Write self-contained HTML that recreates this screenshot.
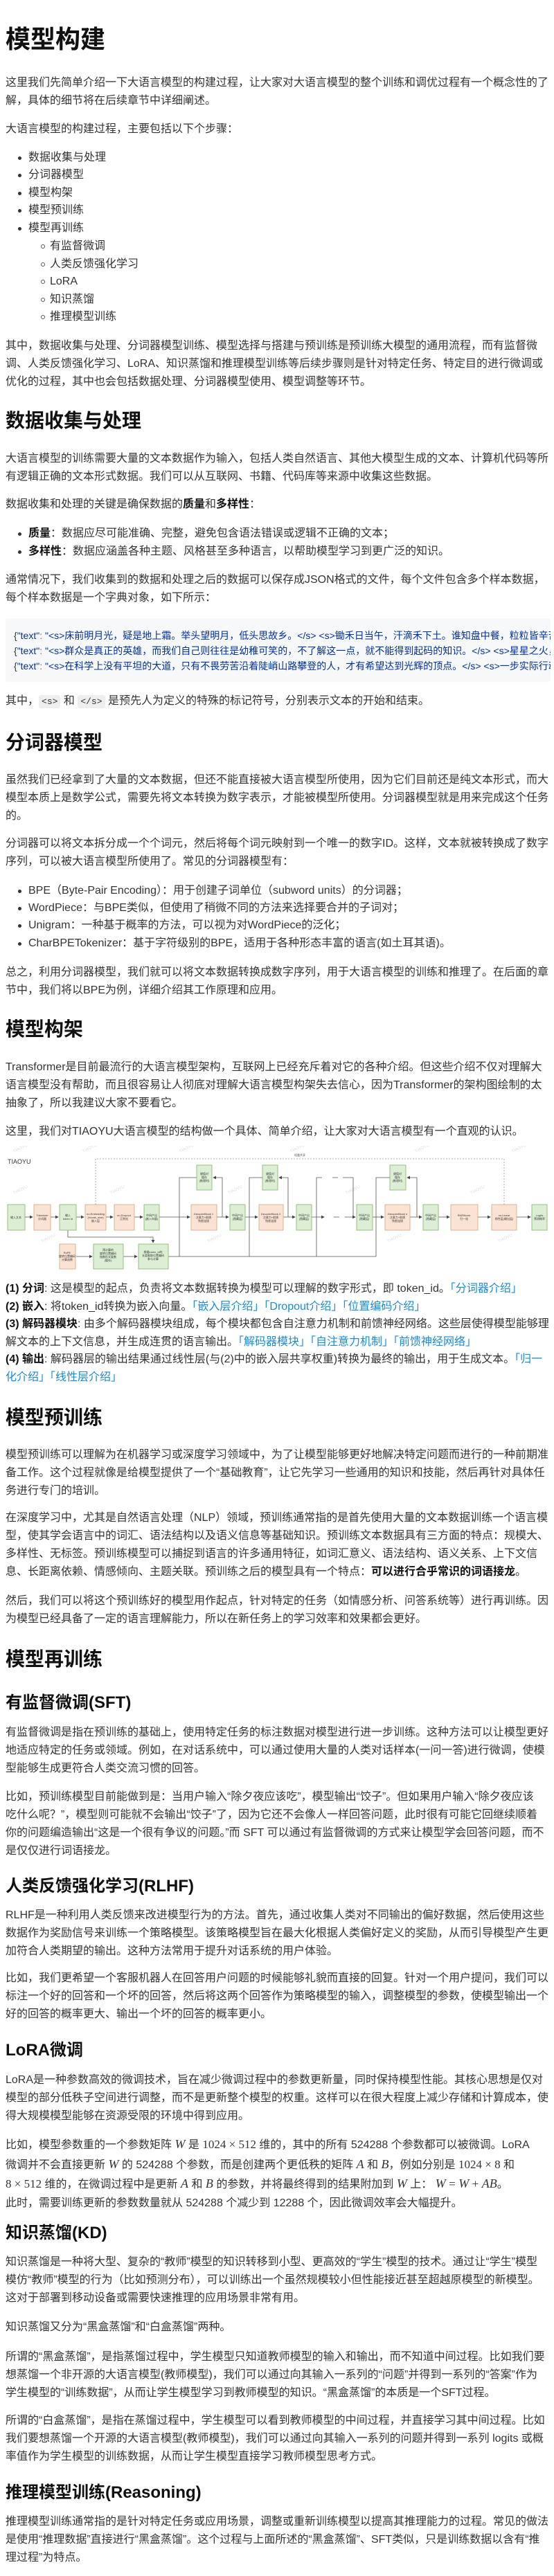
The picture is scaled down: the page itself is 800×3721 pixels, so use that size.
<!DOCTYPE html>
<html><head><meta charset="utf-8">
<style>
html,body{margin:0;padding:0;background:#fff;}
body{width:800px;height:3721px;position:relative;overflow:hidden;font-family:"Liberation Sans","Noto Sans CJK SC",sans-serif;color:#333;font-size:16px;}
.p{position:absolute;left:8px;white-space:nowrap;line-height:26px;font-size:16px;}
.h1{position:absolute;left:8px;font-size:36px;font-weight:bold;color:#111;line-height:40px;white-space:nowrap;}
.h2{position:absolute;left:8px;font-size:28px;font-weight:bold;color:#111;line-height:34px;white-space:nowrap;}
.h3{position:absolute;left:8px;font-size:24px;font-weight:bold;color:#111;line-height:30px;white-space:nowrap;}
b{color:#111;}
a{color:#1a8ad8;text-decoration:none;}
.li{position:absolute;white-space:nowrap;line-height:26px;}
.dot{position:absolute;width:5px;height:5px;border-radius:50%;background:#333;}
.cir{position:absolute;width:4px;height:4px;border-radius:50%;border:1px solid #555;}
code{font-family:"Liberation Mono","Noto Sans CJK SC",monospace;font-size:13px;background:#eee;padding:2px 4px;border-radius:3px;}
.code{position:absolute;left:8px;width:787px;top:893px;height:92px;background:#f6f8fa;overflow:hidden;border-radius:3px;}
.code div{position:absolute;left:12px;white-space:nowrap;font-family:"Liberation Sans","Noto Sans CJK SC",sans-serif;font-size:14px;line-height:22px;color:#333;}
.s{color:#032f9a;}
.k{color:#d73a49;}
i.m{font-family:"Liberation Serif",serif;font-size:18px;}
.m2{font-family:"Liberation Serif",serif;font-size:17px;}
</style></head><body>

<div class="h1" style="top:37px">模型构建</div>
<div class="p" style="top:107px">这里我们先简单介绍一下大语言模型的构建过程，让大家对大语言模型的整个训练和调优过程有一个概念性的了<br>解，具体的细节将在后续章节中详细阐述。</div>
<div class="p" style="top:174px">大语言模型的构建过程，主要包括以下个步骤：</div>

<div class="dot" style="left:26px;top:226px"></div><div class="li" style="left:41px;top:215px">数据收集与处理</div>
<div class="dot" style="left:26px;top:251px"></div><div class="li" style="left:41px;top:240px">分词器模型</div>
<div class="dot" style="left:26px;top:277px"></div><div class="li" style="left:41px;top:266px">模型构架</div>
<div class="dot" style="left:26px;top:302px"></div><div class="li" style="left:41px;top:291px">模型预训练</div>
<div class="dot" style="left:26px;top:328px"></div><div class="li" style="left:41px;top:317px">模型再训练</div>
<div class="cir" style="left:59px;top:353px"></div><div class="li" style="left:72px;top:343px">有监督微调</div>
<div class="cir" style="left:59px;top:379px"></div><div class="li" style="left:72px;top:369px">人类反馈强化学习</div>
<div class="cir" style="left:59px;top:404px"></div><div class="li" style="left:72px;top:394px">LoRA</div>
<div class="cir" style="left:59px;top:430px"></div><div class="li" style="left:72px;top:420px">知识蒸馏</div>
<div class="cir" style="left:59px;top:455px"></div><div class="li" style="left:72px;top:445px">推理模型训练</div>

<div class="p" style="top:487px">其中，数据收集与处理、分词器模型训练、模型选择与搭建与预训练是预训练大模型的通用流程，而有监督微<br>调、人类反馈强化学习、LoRA、知识蒸馏和推理模型训练等后续步骤则是针对特定任务、特定目的进行微调或<br>优化的过程，其中也会包括数据处理、分词器模型使用、模型调整等环节。</div>

<div class="h2" style="top:591px">数据收集与处理</div>
<div class="p" style="top:650px">大语言模型的训练需要大量的文本数据作为输入，包括人类自然语言、其他大模型生成的文本、计算机代码等所<br>有逻辑正确的文本形式数据。我们可以从互联网、书籍、代码库等来源中收集这些数据。</div>
<div class="p" style="top:716px">数据收集和处理的关键是确保数据的<b>质量</b>和<b>多样性</b>：</div>
<div class="dot" style="left:26px;top:769px"></div><div class="li" style="left:41px;top:758px"><b>质量</b>：数据应尽可能准确、完整，避免包含语法错误或逻辑不正确的文本；</div>
<div class="dot" style="left:26px;top:795px"></div><div class="li" style="left:41px;top:784px"><b>多样性</b>：数据应涵盖各种主题、风格甚至多种语言，以帮助模型学习到更广泛的知识。</div>
<div class="p" style="top:825px">通常情况下，我们收集到的数据和处理之后的数据可以保存成JSON格式的文件，每个文件包含多个样本数据，<br>每个样本数据是一个字典对象，如下所示：</div>

<div class="code">
<div style="top:14px">{<span class="s">"text"</span><span class="k">:</span> <span class="s">"&lt;s&gt;床前明月光，疑是地上霜。举头望明月，低头思故乡。&lt;/s&gt; &lt;s&gt;锄禾日当午，汗滴禾下土。谁知盘中餐，粒粒皆辛苦。&lt;/s&gt;"</span>}</div>
<div style="top:36px">{<span class="s">"text"</span><span class="k">:</span> <span class="s">"&lt;s&gt;群众是真正的英雄，而我们自己则往往是幼稚可笑的，不了解这一点，就不能得到起码的知识。&lt;/s&gt; &lt;s&gt;星星之火，可以燎原。&lt;/s&gt;"</span>}</div>
<div style="top:58px">{<span class="s">"text"</span><span class="k">:</span> <span class="s">"&lt;s&gt;在科学上没有平坦的大道，只有不畏劳苦沿着陡峭山路攀登的人，才有希望达到光辉的顶点。&lt;/s&gt; &lt;s&gt;一步实际行动比一打纲领更重要。&lt;/s&gt;"</span>}</div>
</div>
<div class="p" style="top:1000px">其中，<code>&lt;s&gt;</code> 和 <code>&lt;/s&gt;</code> 是预先人为定义的特殊的标记符号，分别表示文本的开始和结束。</div>

<div class="h2" style="top:1056px">分词器模型</div>
<div class="p" style="top:1114px">虽然我们已经拿到了大量的文本数据，但还不能直接被大语言模型所使用，因为它们目前还是纯文本形式，而大<br>模型本质上是数学公式，需要先将文本转换为数字表示，才能被模型所使用。分词器模型就是用来完成这个任务<br>的。</div>
<div class="p" style="top:1206px">分词器可以将文本拆分成一个个词元，然后将每个词元映射到一个唯一的数字ID。这样，文本就被转换成了数字<br>序列，可以被大语言模型所使用了。常见的分词器模型有：</div>
<div class="dot" style="left:26px;top:1285px"></div><div class="li" style="left:41px;top:1274px">BPE（Byte-Pair Encoding）：用于创建子词单位（subword units）的分词器；</div>
<div class="dot" style="left:26px;top:1310px"></div><div class="li" style="left:41px;top:1299px">WordPiece：与BPE类似，但使用了稍微不同的方法来选择要合并的子词对；</div>
<div class="dot" style="left:26px;top:1335px"></div><div class="li" style="left:41px;top:1324px">Unigram：一种基于概率的方法，可以视为对WordPiece的泛化；</div>
<div class="dot" style="left:26px;top:1361px"></div><div class="li" style="left:41px;top:1350px">CharBPETokenizer：基于字符级别的BPE，适用于各种形态丰富的语言(如土耳其语)。</div>
<div class="p" style="top:1392px">总之，利用分词器模型，我们就可以将文本数据转换成数字序列，用于大语言模型的训练和推理了。在后面的章<br>节中，我们将以BPE为例，详细介绍其工作原理和应用。</div>

<div class="h2" style="top:1470px">模型构架</div>
<div class="p" style="top:1529px">Transformer是目前最流行的大语言模型架构，互联网上已经充斥着对它的各种介绍。但这些介绍不仅对理解大<br>语言模型没有帮助，而且很容易让人彻底对理解大语言模型构架失去信心，因为Transformer的架构图绘制的太<br>抽象了，所以我建议大家不要看它。</div>
<div class="p" style="top:1622px">这里，我们对TIAOYU大语言模型的结构做一个具体、简单介绍，让大家对大语言模型有一个直观的认识。</div>

<svg style="position:absolute;left:0;top:1655px" width="800" height="185" viewBox="0 0 800 185" font-family="Liberation Sans, Noto Sans CJK SC, sans-serif">
<defs><marker id="ar" markerWidth="6" markerHeight="6" refX="5" refY="3" orient="auto"><path d="M0,0 L6,3 L0,6z" fill="#444"/></marker></defs>
<text x="11" y="26" font-size="9" fill="#333">TIAOYU</text>
<g fill="#ccc" font-size="6" opacity="0.7">
<text x="20" y="10" transform="rotate(-25 20 10)">TIAOYU</text><text x="120" y="10" transform="rotate(-25 120 10)">TIAOYU</text><text x="260" y="10" transform="rotate(-25 260 10)">TIAOYU</text><text x="420" y="10" transform="rotate(-25 420 10)">TIAOYU</text><text x="600" y="10" transform="rotate(-25 600 10)">TIAOYU</text><text x="740" y="10" transform="rotate(-25 740 10)">TIAOYU</text>
<text x="20" y="70" transform="rotate(-25 20 70)">TIAOYU</text><text x="160" y="70" transform="rotate(-25 160 70)">TIAOYU</text><text x="330" y="70" transform="rotate(-25 330 70)">TIAOYU</text><text x="500" y="70" transform="rotate(-25 500 70)">TIAOYU</text><text x="680" y="70" transform="rotate(-25 680 70)">TIAOYU</text>
<text x="60" y="140" transform="rotate(-25 60 140)">TIAOYU</text><text x="300" y="140" transform="rotate(-25 300 140)">TIAOYU</text><text x="560" y="140" transform="rotate(-25 560 140)">TIAOYU</text><text x="720" y="140" transform="rotate(-25 720 140)">TIAOYU</text>
</g>
<g fill="none" stroke="#999" stroke-dasharray="2,2" stroke-width="0.8">
<path d="M138,85 V19 H728 V85"/>
</g>
<text x="425" y="15" font-size="4" fill="#555">权重共享</text>
<g stroke="#555" stroke-width="0.8" fill="none">
<path d="M36,103 H47" marker-end="url(#ar)"/>
<path d="M73,103 H84" marker-end="url(#ar)"/>
<path d="M110,103 H121" marker-end="url(#ar)"/>
<path d="M153,103 H163" marker-end="url(#ar)"/>
<path d="M194,103 H206" marker-end="url(#ar)"/>
<path d="M230,103 H274" marker-end="url(#ar)"/>
<path d="M313,103 H330" marker-end="url(#ar)"/>
<path d="M354,103 H372" marker-end="url(#ar)"/>
<path d="M409,103 H426" marker-end="url(#ar)"/>
<path d="M450,103 H468" marker-end="url(#ar)"/>
<path d="M482,103 H490 M498,103 H513" marker-end="url(#ar)"/>
<path d="M538,103 H554" marker-end="url(#ar)"/>
<path d="M592,103 H609" marker-end="url(#ar)"/>
<path d="M633,103 H649" marker-end="url(#ar)"/>
<path d="M690,103 H708" marker-end="url(#ar)"/>
<path d="M746,103 H766" marker-end="url(#ar)"/>
<path d="M321,103 V46 H308" marker-end="url(#ar)"/>
<path d="M416,103 V46 H403" marker-end="url(#ar)"/>
<path d="M510,103 V46 H495 M488,46 H480"/>
<path d="M602,103 V46 H588" marker-end="url(#ar)"/>
<path d="M259,160 V46 H284"/>
<path d="M360,160 V46 H379"/>
<path d="M457,160 V46 H465"/>
<path d="M543,160 V46 H563"/>
<path d="M243,160 H543"/>
<path d="M98,122 V132 H221 V140" marker-end="url(#ar)"/>
<path d="M110,160 H133" marker-end="url(#ar)"/>
<path d="M178,160 H198" marker-end="url(#ar)"/>
</g>
<g stroke-width="0.8">
<g fill="#dcefd5" stroke="#82b366">
<rect x="11" y="85" width="25" height="37"/><rect x="86" y="85" width="24" height="37"/><rect x="208" y="85" width="22" height="37"/><rect x="332" y="85" width="22" height="37"/><rect x="428" y="85" width="22" height="37"/><rect x="515" y="85" width="23" height="37"/><rect x="611" y="85" width="22" height="37"/><rect x="768" y="85" width="22" height="37"/>
<rect x="284" y="28" width="22" height="36"/><rect x="379" y="28" width="22" height="36"/><rect x="563" y="28" width="23" height="36"/>
<rect x="135" y="142" width="43" height="36"/><rect x="200" y="142" width="43" height="36"/>
</g>
<g fill="#fbe3d4" stroke="#d6a27a">
<rect x="49" y="85" width="24" height="37"/><rect x="123" y="85" width="30" height="37"/><rect x="165" y="85" width="29" height="37"/><rect x="276" y="85" width="37" height="37"/><rect x="374" y="85" width="35" height="37"/><rect x="556" y="85" width="36" height="37"/><rect x="651" y="85" width="39" height="37"/><rect x="710" y="85" width="36" height="37"/>
<rect x="86" y="142" width="23" height="36"/>
</g>
</g>
<g font-size="4" fill="#333" text-anchor="middle">
<text x="23" y="105">输入文本</text><text x="61" y="102">Tokenizer</text><text x="61" y="107">分词器</text>
<text x="98" y="102">输入</text><text x="98" y="107">token id</text>
<text x="138" y="100">nn.Embedding</text><text x="138" y="105">(Vocab_size)</text><text x="138" y="110">嵌入层</text>
<text x="179" y="102">nn.Dropout</text><text x="179" y="107">正则化</text>
<text x="219" y="102">中间产出</text><text x="219" y="107">(嵌入向量)</text>
<text x="294" y="100">DecoderBlock 1</text><text x="294" y="105">注意力+前馈</text><text x="294" y="110">残差连接</text>
<text x="343" y="102">中间产出</text><text x="343" y="107">(隐藏层)</text>
<text x="391" y="100">DecoderBlock 2</text><text x="391" y="105">注意力+前馈</text><text x="391" y="110">残差连接</text>
<text x="439" y="102">中间产出</text><text x="439" y="107">(隐藏层)</text>
<text x="526" y="102">中间产出</text><text x="526" y="107">(隐藏层)</text>
<text x="574" y="100">DecoderBlock n</text><text x="574" y="105">注意力+前馈</text><text x="574" y="110">残差连接</text>
<text x="622" y="102">中间产出</text><text x="622" y="107">(隐藏层)</text>
<text x="670" y="102">RMSNorm</text><text x="670" y="107">归一化</text>
<text x="728" y="102">nn.Linear</text><text x="728" y="107">线性层(输出层)</text>
<text x="779" y="102">Logits</text><text x="779" y="107">预测概率</text>
<text x="295" y="42">键值对</text><text x="295" y="47">缓存</text><text x="295" y="52">(推理时)</text>
<text x="390" y="42">键值对</text><text x="390" y="47">缓存</text><text x="390" y="52">(推理时)</text>
<text x="574" y="42">键值对</text><text x="574" y="47">缓存</text><text x="574" y="52">(推理时)</text>
<text x="97" y="156">RoPE</text><text x="97" y="161">旋转位置编码</text><text x="97" y="166">计算函数</text>
<text x="156" y="152">预计算的</text><text x="156" y="157">旋转位置编码</text><text x="156" y="162">指数形式复数</text><text x="156" y="167">(缓存)</text>
<text x="221" y="155">根据token_id的</text><text x="221" y="160">长度截取位置编码</text><text x="221" y="165">参与计算</text>
</g>
</svg>

<div class="p" style="top:1849px;line-height:25.6px"><b>(1) 分词</b>: 这是模型的起点，负责将文本数据转换为模型可以理解的数字形式，即 token_id。<a>「分词器介绍」</a><br><b>(2) 嵌入</b>: 将token_id转换为嵌入向量。<a>「嵌入层介绍」「Dropout介绍」「位置编码介绍」</a><br><b>(3) 解码器模块</b>: 由多个解码器模块组成，每个模块都包含自注意力机制和前馈神经网络。这些层使得模型能够理<br>解文本的上下文信息，并生成连贯的语言输出。<a>「解码器模块」「自注意力机制」「前馈神经网络」</a><br><b>(4) 输出</b>: 解码器层的输出结果通过线性层(与(2)中的嵌入层共享权重)转换为最终的输出，用于生成文本。<a>「归一</a><br><a>化介绍」「线性层介绍」</a></div>

<div class="h2" style="top:2031px">模型预训练</div>
<div class="p" style="top:2089px">模型预训练可以理解为在机器学习或深度学习领域中，为了让模型能够更好地解决特定问题而进行的一种前期准<br>备工作。这个过程就像是给模型提供了一个“基础教育”，让它先学习一些通用的知识和技能，然后再针对具体任<br>务进行专门的培训。</div>
<div class="p" style="top:2180px">在深度学习中，尤其是自然语言处理（NLP）领域，预训练通常指的是首先使用大量的文本数据训练一个语言模<br>型，使其学会语言中的词汇、语法结构以及语义信息等基础知识。预训练文本数据具有三方面的特点：规模大、<br>多样性、无标签。预训练模型可以捕捉到语言的许多通用特征，如词汇意义、语法结构、语义关系、上下文信<br>息、长距离依赖、情感倾向、主题关联。预训练之后的模型具有一个特点：<b>可以进行合乎常识的词语接龙</b>。</div>
<div class="p" style="top:2300px">然后，我们可以将这个预训练好的模型用作起点，针对特定的任务（如情感分析、问答系统等）进行再训练。因<br>为模型已经具备了一定的语言理解能力，所以在新任务上的学习效率和效果都会更好。</div>

<div class="h2" style="top:2380px">模型再训练</div>
<div class="h3" style="top:2445px">有监督微调(SFT)</div>
<div class="p" style="top:2490px">有监督微调是指在预训练的基础上，使用特定任务的标注数据对模型进行进一步训练。这种方法可以让模型更好<br>地适应特定的任务或领域。例如，在对话系统中，可以通过使用大量的人类对话样本(一问一答)进行微调，使模<br>型能够生成更符合人类交流习惯的回答。</div>
<div class="p" style="top:2583px">比如，预训练模型目前能做到是：当用户输入“除夕夜应该吃”，模型输出“饺子”。但如果用户输入“除夕夜应该<br>吃什么呢？”，模型则可能就不会输出“饺子”了，因为它还不会像人一样回答问题，此时很有可能它回继续顺着<br>你的问题编造输出“这是一个很有争议的问题。”而 SFT 可以通过有监督微调的方式来让模型学会回答问题，而不<br>是仅仅进行词语接龙。</div>

<div class="h3" style="top:2710px">人类反馈强化学习(RLHF)</div>
<div class="p" style="top:2754px">RLHF是一种利用人类反馈来改进模型行为的方法。首先，通过收集人类对不同输出的偏好数据，然后使用这些<br>数据作为奖励信号来训练一个策略模型。该策略模型旨在最大化根据人类偏好定义的奖励，从而引导模型产生更<br>加符合人类期望的输出。这种方法常用于提升对话系统的用户体验。</div>
<div class="p" style="top:2845px">比如，我们更希望一个客服机器人在回答用户问题的时候能够礼貌而直接的回复。针对一个用户提问，我们可以<br>标注一个好的回答和一个坏的回答，然后将这两个回答作为策略模型的输入，调整模型的参数，使模型输出一个<br>好的回答的概率更大、输出一个坏的回答的概率更小。</div>

<div class="h3" style="top:2947px">LoRA微调</div>
<div class="p" style="top:2992px">LoRA是一种参数高效的微调技术，旨在减少微调过程中的参数更新量，同时保持模型性能。其核心思想是仅对<br>模型的部分低秩子空间进行调整，而不是更新整个模型的权重。这样可以在很大程度上减少存储和计算成本，使<br>得大规模模型能够在资源受限的环境中得到应用。</div>
<div class="p" style="top:3084px;line-height:26.5px">比如，模型参数重的一个参数矩阵 <i class="m">W</i> 是 <span class="m2">1024 × 512</span> 维的，其中的所有 524288 个参数都可以被微调。LoRA<br>微调并不会直接更新 <i class="m">W</i> 的 524288 个参数，而是创建两个更低秩的矩阵 <i class="m">A</i> 和 <i class="m">B</i>，例如分别是 <span class="m2">1024 × 8</span> 和<br><span class="m2">8 × 512</span> 维的，在微调过程中是更新 <i class="m">A</i> 和 <i class="m">B</i> 的参数，并将最终得到的结果附加到 <i class="m">W</i> 上： <i class="m">W</i> <span class="m2">=</span> <i class="m">W</i> <span class="m2">+</span> <i class="m">AB</i>。<br>此时，需要训练更新的参数数量就从 524288 个减少到 12288 个，因此微调效率会大幅提升。</div>

<div class="h3" style="top:3211px">知识蒸馏(KD)</div>
<div class="p" style="top:3255px">知识蒸馏是一种将大型、复杂的“教师”模型的知识转移到小型、更高效的“学生”模型的技术。通过让“学生”模型<br>模仿“教师”模型的行为（比如预测分布），可以训练出一个虽然规模较小但性能接近甚至超越原模型的新模型。<br>这对于部署到移动设备或需要快速推理的应用场景非常有用。</div>
<div class="p" style="top:3349px">知识蒸馏又分为“黑盒蒸馏”和“白盒蒸馏”两种。</div>
<div class="p" style="top:3392px">所谓的“黑盒蒸馏”，是指蒸馏过程中，学生模型只知道教师模型的输入和输出，而不知道中间过程。比如我们要<br>想蒸馏一个非开源的大语言模型(教师模型)，我们可以通过向其输入一系列的“问题”并得到一系列的“答案”作为<br>学生模型的“训练数据”，从而让学生模型学习到教师模型的知识。“黑盒蒸馏”的本质是一个SFT过程。</div>
<div class="p" style="top:3484px">所谓的“白盒蒸馏”，是指在蒸馏过程中，学生模型可以看到教师模型的中间过程，并直接学习其中间过程。比如<br>我们要想蒸馏一个开源的大语言模型(教师模型)，我们可以通过向其输入一系列的问题并得到一系列 logits 或概<br>率值作为学生模型的训练数据，从而让学生模型直接学习教师模型思考方式。</div>

<div class="h3" style="top:3586px">推理模型训练(Reasoning)</div>
<div class="p" style="top:3630px">推理模型训练通常指的是针对特定任务或应用场景，调整或重新训练模型以提高其推理能力的过程。常见的做法<br>是使用“推理数据”直接进行“黑盒蒸馏”。这个过程与上面所述的“黑盒蒸馏”、SFT类似，只是训练数据以含有“推<br>理过程”为特点。</div>

</body></html>
